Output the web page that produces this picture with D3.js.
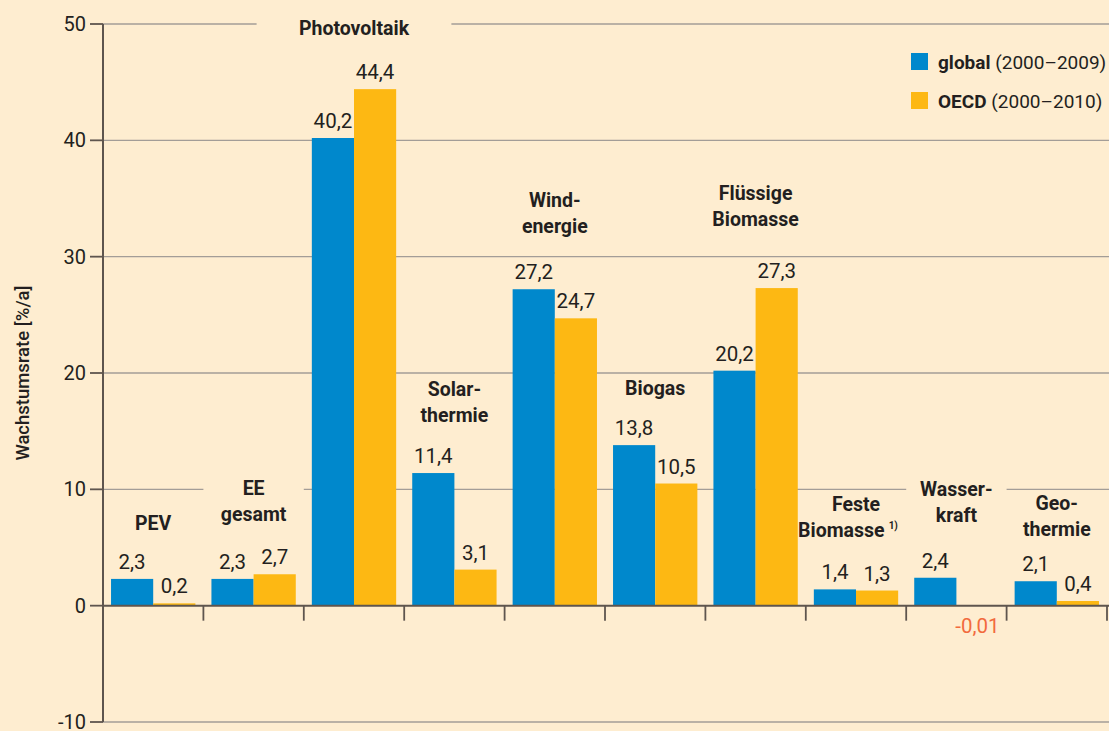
<!DOCTYPE html>
<html>
<head>
<meta charset="utf-8">
<script src="https://cdn.jsdelivr.net/npm/d3@7"></script>
<style>
  html, body { margin: 0; padding: 0; background: #feedd0; }
  svg { display: block; }
  text { font-family: Roboto, "Liberation Sans", sans-serif; fill: #231f20; }
</style>
</head>
<body>
<svg id="chart" width="1109" height="731"></svg>
<script>
// Jährliche Wachstumsraten erneuerbarer Energien
const categories = [
  ["PEV"], ["EE", "gesamt"], ["Photovoltaik"], ["Solar-", "thermie"], ["Wind-", "energie"],
  ["Biogas"], ["Flüssige", "Biomasse"], ["Feste", "Biomasse"], ["Wasser-", "kraft"], ["Geo-", "thermie"]
];
const footnotes = ["", "", "", "", "", "", "", "1)", "", ""];
const globalRates = [2.3, 2.3, 40.2, 11.4, 27.2, 13.8, 20.2, 1.4, 2.4, 2.1];
const oecdRates   = [0.2, 2.7, 44.4, 3.1, 24.7, 10.5, 27.3, 1.3, -0.01, 0.4];
const seriesBold  = ["global", "OECD"];
const seriesSpan  = ["(2000–2009)", "(2000–2010)"];
const yTicks = [-10, 0, 10, 20, 30, 40, 50];
const yTitle = "Wachstumsrate [%/a]";

// layout
const W = 1109, H = 731;
const plotL = 103, plotR = 1107, plotT = 24, plotB = 722;
const colors = ["#0088cc", "#fdb813"];
const axisColor = "#5e554e", gridColor = "#a39d97", negColor = "#f26a3d";
// extra spacing between value label and category heading, per group
const headGap = [39, 43, 44, 41, 46, 40, 52, 42, 46, 35];
const lineH = 26;

const svg = d3.select("#chart");
svg.append("rect").attr("width", W).attr("height", H).attr("fill", "#feedd0");

const y = d3.scaleLinear().domain([-10, 50]).range([plotB, plotT]);
const x = d3.scaleBand().domain(d3.range(categories.length)).range([plotL, plotR]).paddingInner(0.16).paddingOuter(0.08);
const x1 = d3.scaleBand().domain([0, 1]).range([0, x.bandwidth()]);
const step = x.step();
const groupStart = i => plotL + i * step;

const fmt = v => String(v).replace(".", ",");

// category headings (drawn first into a layer to measure them)
const headLayer = svg.append("g");
const heads = [];
categories.forEach((lines, i) => {
  const maxV = Math.max(globalRates[i], oecdRates[i], 0);
  const lastBase = y(maxV) - 10 - headGap[i];
  const cx = groupStart(i) + step / 2;
  const t = headLayer.append("text")
    .attr("text-anchor", "middle")
    .attr("font-size", 19.5).attr("font-weight", "bold");
  lines.forEach((ln, k) => {
    t.append("tspan").attr("x", cx)
      .attr("y", lastBase - (lines.length - 1 - k) * lineH).text(ln);
  });
  if (footnotes[i]) {
    // footnote marker after the last line
    const tsp = t.selectAll("tspan").nodes();
    const lastT = d3.select(tsp[tsp.length - 1]);
    t.append("tspan").attr("font-size", 10).attr("dy", -8).attr("dx", 4).text(footnotes[i]);
    lastT.attr("x", cx - 8);
  }
  heads.push(t);
});

// grid lines with gaps where headings cross them
const gridG = svg.insert("g", () => headLayer.node());
yTicks.filter(v => v !== 0).forEach(v => {
  const gy = y(v);
  const gaps = [];
  heads.forEach((t, i) => {
    const b = t.node().getBBox();
    if (b.y < gy && b.y + b.height > gy) {
      const cx = groupStart(i) + step / 2;
      const gw = b.width > step ? b.width + 84 : step;
      gaps.push([cx - gw / 2, cx + gw / 2]);
    }
  });
  gaps.sort((a, b) => a[0] - b[0]);
  let x0 = plotL;
  const segs = [];
  gaps.forEach(g => { segs.push([x0, g[0]]); x0 = g[1]; });
  segs.push([x0, W]);
  segs.forEach(s => {
    if (s[1] > s[0]) gridG.append("line").attr("x1", s[0]).attr("x2", s[1]).attr("y1", gy).attr("y2", gy)
      .attr("stroke", gridColor).attr("stroke-width", 1.3);
  });
});

// bars
const rows = categories.map((c, i) => [globalRates[i], oecdRates[i]]);
const barG = svg.append("g");
rows.forEach((vals, i) => {
  vals.forEach((v, s) => {
    const bx = x(i) + x1(s);
    barG.append("rect")
      .attr("x", bx).attr("width", x1.bandwidth())
      .attr("y", y(Math.max(v, 0))).attr("height", Math.abs(y(v) - y(0)))
      .attr("fill", colors[s]);
    const lbl = barG.append("text")
      .attr("x", bx + x1.bandwidth() / 2)
      .attr("text-anchor", "middle").attr("font-size", 20.5)
      .text(fmt(v));
    if (v < 0) lbl.attr("y", y(0) + 27).style("fill", negColor);
    else lbl.attr("y", y(v) - 10);
  });
});

// axes
const axG = svg.append("g");
axG.append("line").attr("x1", plotL).attr("x2", plotL).attr("y1", plotT).attr("y2", plotB)
  .attr("stroke", axisColor).attr("stroke-width", 2);
axG.append("line").attr("x1", plotL).attr("x2", W).attr("y1", y(0)).attr("y2", y(0))
  .attr("stroke", axisColor).attr("stroke-width", 2);
yTicks.forEach(v => {
  axG.append("line").attr("x1", plotL - 13).attr("x2", plotL).attr("y1", y(v)).attr("y2", y(v))
    .attr("stroke", axisColor).attr("stroke-width", 1.8);
  axG.append("text").attr("x", plotL - 17).attr("y", y(v) + 7)
    .attr("text-anchor", "end").attr("font-size", 20).text(v);
});
d3.range(1, categories.length + 1).forEach(i => {
  const tx = groupStart(i);
  axG.append("line").attr("x1", tx).attr("x2", tx).attr("y1", y(0)).attr("y2", y(0) + 15)
    .attr("stroke", axisColor).attr("stroke-width", 1.8);
});

svg.append("text")
  .attr("transform", `translate(29,${(plotT + plotB) / 2}) rotate(-90)`)
  .attr("text-anchor", "middle").attr("font-size", 18.5).attr("font-weight", 500)
  .text(yTitle);

// legend
const lg = svg.append("g").attr("transform", "translate(911,53)");
seriesBold.forEach((name, s) => {
  const g = lg.append("g").attr("transform", `translate(0,${s * 39})`);
  g.append("rect").attr("width", 17).attr("height", 17).attr("fill", colors[s]);
  const t = g.append("text").attr("x", 27).attr("y", 16).attr("font-size", 19);
  t.append("tspan").attr("font-weight", "bold").text(name + " ");
  t.append("tspan").text(seriesSpan[s]);
});
</script>
</body>
</html>
